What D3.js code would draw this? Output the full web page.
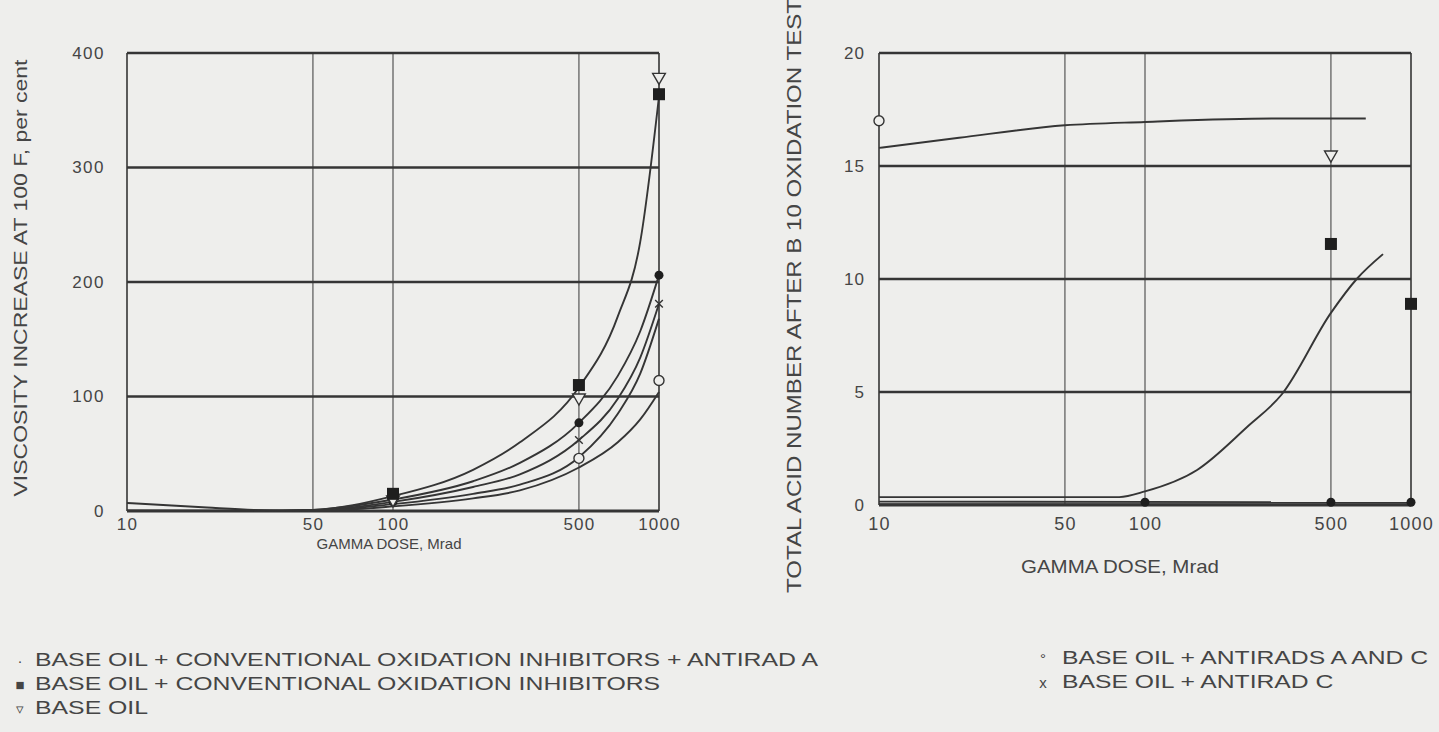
<!DOCTYPE html>
<html><head><meta charset="utf-8">
<script src="https://cdn.jsdelivr.net/npm/d3@7"></script>
<style>
html,body{margin:0;padding:0;background:#eeeeec;}
svg{display:block;}
text{font-family:"Liberation Sans",Arial,sans-serif;fill:#454545;}
</style></head><body>
<svg id="chart" width="1439" height="732"></svg>
<script>
// ---------- data ----------
const doseTicks = [10, 50, 100, 500, 1000];
const viscTicks = [0, 100, 200, 300, 400];
const tanTicks = [0, 5, 10, 15, 20];

// Left chart: viscosity increase curves (dose Mrad, per cent)
const viscCurveA = [[10,0.5],[30,0.3],[50,1],[100,13],[200,36],[300,60],[500,108],[700,170],[850,235],[1000,362]];
const viscCurveB = [[30,0],[50,1],[100,10],[200,26],[300,42],[500,77],[700,118],[850,157],[1000,206]];
const viscCurveC = [[30,0],[50,0.5],[100,8],[200,21],[300,32],[500,62],[700,98],[850,134],[1000,181]];
const viscCurveD = [[30,0],[50,0.3],[100,6],[200,15],[300,23],[500,47],[700,85],[850,120],[1000,168]];
const viscCurveE = [[10,7],[20,3],[30,1],[50,0.2],[100,4],[200,11],[300,18],[500,38],[700,60],[850,80],[1000,104]];
// Left chart markers
const viscSquare = [[100,15],[500,110],[1000,364]];
const viscTriangle = [[100,10],[500,99],[1000,379]];
const viscDot = [[100,8],[500,77],[1000,206]];
const viscX = [[500,62],[1000,181]];
const viscCircle = [[500,46],[1000,114]];

// Right chart: total acid number curves
const tanTopCurve = [[10,15.8],[20,16.25],[50,16.8],[100,16.95],[300,17.1],[676,17.1]];
const tanSCurve = [[10,0.35],[80,0.35],[100,0.6],[157,1.55],[242,3.45],[327,4.9],[500,8.5],[625,10.0],[785,11.1]];
const tanLow1 = [[10,0.15],[1000,0.12]];
const tanLow2 = [[10,0.04],[1000,0.04]];
// Right chart markers
const tanCircle = [[10,17.0]];
const tanTriangle = [[500,15.5]];
const tanSquare = [[500,11.55],[1000,8.9]];
const tanDot = [[100,0.12],[500,0.12],[1000,0.12]];

const legendLeft = [
  {sym:"·", text:"BASE OIL + CONVENTIONAL OXIDATION INHIBITORS + ANTIRAD A"},
  {sym:"■", text:"BASE OIL + CONVENTIONAL OXIDATION INHIBITORS"},
  {sym:"▿", text:"BASE OIL"}
];
const legendRight = [
  {sym:"°", text:"BASE OIL + ANTIRADS A AND C"},
  {sym:"x", text:"BASE OIL + ANTIRAD C"}
];

// ---------- drawing ----------
const svg = d3.select("#chart");
const INK = "#353535";

function panel(cfg){
  const g = svg.append("g");
  const x = d3.scaleLog().domain([10,1000]).range([cfg.x0, cfg.x1]);
  const y = d3.scaleLinear().domain(cfg.yDomain).range([cfg.yBottom, cfg.yTop]);

  g.selectAll(".vg").data([50,100,500]).join("line")
    .attr("x1", d=>x(d)).attr("x2", d=>x(d))
    .attr("y1", y(cfg.yDomain[1])).attr("y2", y(0))
    .attr("stroke", "#555").attr("stroke-width", 1.2);
  g.selectAll(".vb").data([10,1000]).join("line")
    .attr("x1", d=>x(d)).attr("x2", d=>x(d))
    .attr("y1", y(cfg.yDomain[1])).attr("y2", y(0))
    .attr("stroke", INK).attr("stroke-width", 1.6);
  g.selectAll(".hg").data(cfg.yTicks).join("line")
    .attr("x1", x(10)).attr("x2", x(1000))
    .attr("y1", d=>y(d)).attr("y2", d=>y(d))
    .attr("stroke", INK).attr("stroke-width", d=> d===0 ? 3.2 : 2.6);

  const ya = d3.axisLeft(y).tickValues(cfg.yTicks).tickSize(0).tickPadding(cfg.yPad);
  const yg = g.append("g").attr("transform", `translate(${x(10)},0)`).call(ya);
  yg.select(".domain").remove();
  yg.selectAll("text").style("font-size", cfg.yTickSize+"px").style("letter-spacing", cfg.yTickLS+"px")
    .attr("fill", "#454545").style("font-family","Liberation Sans, Arial, sans-serif");

  const xa = d3.axisBottom(x).tickValues(doseTicks).tickFormat(d3.format("d")).tickSize(0).tickPadding(cfg.xPad);
  const xg = g.append("g").attr("transform", `translate(0,${y(0)})`).call(xa);
  xg.select(".domain").remove();
  xg.selectAll("text").style("font-size", cfg.xTickSize+"px").style("letter-spacing","1.2px")
    .attr("fill", "#454545").style("font-family","Liberation Sans, Arial, sans-serif");

  const xt = g.append("text").attr("x", cfg.xTitleX).attr("y", cfg.xTitleY)
    .attr("text-anchor","middle").style("font-size", cfg.xTitleSize+"px").text("GAMMA DOSE, Mrad");
  if(cfg.xTitleLen) xt.attr("textLength", cfg.xTitleLen).attr("lengthAdjust","spacingAndGlyphs");
  g.append("text")
    .attr("transform", `translate(${cfg.yTitleX},${cfg.yTitleY}) rotate(-90)`)
    .attr("text-anchor","middle").attr("dominant-baseline","middle")
    .attr("textLength", cfg.yTitleLen).attr("lengthAdjust","spacingAndGlyphs")
    .style("font-size", cfg.yTitleSize+"px").text(cfg.yTitle);

  const line = d3.line().x(d=>x(d[0])).y(d=>y(d[1])).curve(d3.curveMonotoneX);
  cfg.curves.forEach(c=>{
    g.append("path").datum(c).attr("d", line)
      .attr("fill","none").attr("stroke", INK).attr("stroke-width", 1.9);
  });
  return {g, x, y};
}

function markers(p, data, type){
  const sel = p.g.append("g");
  data.forEach(d=>{
    const cx = p.x(d[0]), cy = p.y(d[1]);
    if(type==="square"){
      sel.append("rect").attr("x",cx-6).attr("y",cy-6).attr("width",12).attr("height",12).attr("fill","#1e1e1e");
    } else if(type==="dot"){
      sel.append("circle").attr("cx",cx).attr("cy",cy).attr("r",4.5).attr("fill","#1e1e1e");
    } else if(type==="circle"){
      sel.append("circle").attr("cx",cx).attr("cy",cy).attr("r",5).attr("fill","#eeeeec").attr("stroke","#333").attr("stroke-width",1.4);
    } else if(type==="triangle"){
      sel.append("path").attr("d", d3.symbol(d3.symbolTriangle, 70)()).attr("transform",`translate(${cx},${cy}) rotate(180)`)
        .attr("fill","#eeeeec").attr("stroke","#333").attr("stroke-width",1.4);
    } else if(type==="x"){
      sel.append("path").attr("d", d3.symbol(d3.symbolX, 40)()).attr("transform",`translate(${cx},${cy})`)
        .attr("fill","none").attr("stroke","#333").attr("stroke-width",1.4);
    }
  });
}

const left = panel({
  x0:127, x1:659, yBottom:511, yTop:53, yDomain:[0,400], yTicks:viscTicks,
  yPad:22, yTickSize:17, yTickLS:1.5, xPad:7, xTickSize:17,
  xTitleX:389, xTitleY:549, xTitleLen:null, xTitleSize:15,
  yTitle:"VISCOSITY INCREASE AT 100 F, per cent", yTitleX:22, yTitleY:278, yTitleLen:437, yTitleSize:19,
  curves:[viscCurveA, viscCurveB, viscCurveC, viscCurveD, viscCurveE]
});
markers(left, viscCircle, "circle");
markers(left, viscX, "x");
markers(left, viscDot, "dot");
markers(left, viscTriangle, "triangle");
markers(left, viscSquare, "square");

const right = panel({
  x0:879, x1:1411, yBottom:505, yTop:53, yDomain:[0,20], yTicks:tanTicks,
  yPad:14, yTickSize:17, yTickLS:1, xPad:12, xTickSize:18,
  xTitleX:1120, xTitleY:573, xTitleLen:198, xTitleSize:19,
  yTitle:"TOTAL ACID NUMBER AFTER B 10 OXIDATION TEST", yTitleX:796, yTitleY:296, yTitleLen:594, yTitleSize:20,
  curves:[tanTopCurve, tanSCurve, tanLow1, tanLow2]
});
markers(right, tanCircle, "circle");
markers(right, tanTriangle, "triangle");
markers(right, tanSquare, "square");
markers(right, tanDot, "dot");

// legends: glyphs stretched uniformly so that the first line spans its reference width
function legend(items, symX, textX, y0, firstWidth){
  const lg = svg.append("g");
  const texts = items.map((d,i)=>{
    const yy = y0 + i*24;
    lg.append("text").attr("x", symX).attr("y", yy).attr("text-anchor","middle")
      .style("font-size","15px").text(d.sym);
    return lg.append("text").attr("x", textX).attr("y", yy)
      .style("font-size","18px").text(d.text);
  });
  const ratio = firstWidth / texts[0].node().getComputedTextLength();
  texts.forEach(t=>{
    const w = t.node().getComputedTextLength();
    t.attr("textLength", w*ratio).attr("lengthAdjust","spacingAndGlyphs");
  });
}
legend(legendLeft, 20, 35, 666, 783);
legend(legendRight, 1043, 1062, 664, 366);
</script>
</body></html>
